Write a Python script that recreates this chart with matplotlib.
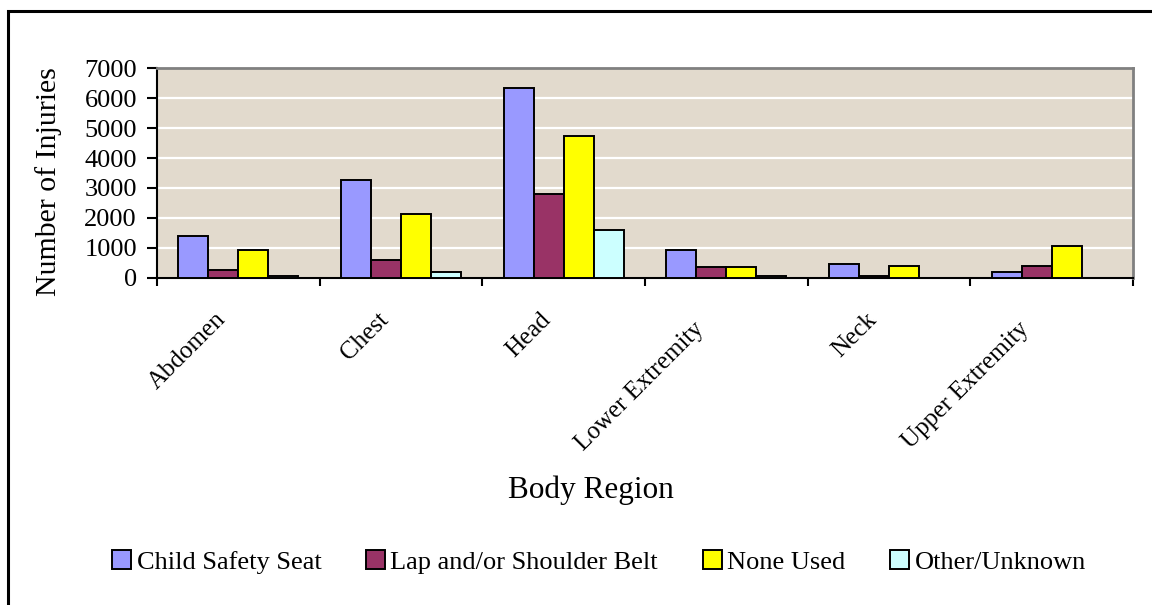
import numpy as np
import matplotlib.pyplot as plt
from matplotlib.patches import Rectangle
from matplotlib.transforms import ScaledTranslation

# DATA
regions = ["Abdomen", "Chest", "Head", "Lower Extremity", "Neck", "Upper Extremity"]
child_seat = [1400, 3270, 6330, 930, 460, 200]
belt = [270, 600, 2800, 380, 60, 390]
none_used = [930, 2130, 4730, 380, 400, 1060]
other = [60, 200, 1600, 70, 0, 0]

series_names = ["Child Safety Seat", "Lap and/or Shoulder Belt", "None Used", "Other/Unknown"]
series_colors = ["#9999ff", "#993366", "#ffff00", "#ccffff"]

# PLOT
plt.rcParams['font.family'] = ['Liberation Serif', 'DejaVu Serif']

fig = plt.figure(figsize=(11.52, 6.05), dpi=100)
ax = fig.add_axes([0.1363, 0.5405, 0.8472, 0.3471])
ax.set_facecolor("#e2dacd")

x = np.arange(len(regions))
w = 0.184
for i, (vals, name, col) in enumerate(zip([child_seat, belt, none_used, other], series_names, series_colors)):
    ax.bar(x - 1.5 * w + i * w, vals, width=w, color=col, edgecolor="black",
           linewidth=1.4, label=name, zorder=3)

ax.set_xlim(-0.5, len(regions) - 0.5)
ax.set_ylim(0, 7000)
ax.set_yticks(range(0, 7001, 1000))
ax.yaxis.grid(True, color="white", linewidth=1.6, zorder=1)
ax.set_axisbelow(True)

ax.set_xticks(x)
ax.set_xticklabels(regions, rotation=45, ha="right", rotation_mode="anchor", fontsize=18)
ax.set_xticks(np.arange(-0.5, len(regions)), minor=True)
ax.tick_params(axis="x", which="major", length=0, pad=22)
ax.tick_params(axis="x", which="minor", length=6, width=1.5, direction="out")
ax.tick_params(axis="y", length=7, width=1.5, direction="out", labelsize=19, pad=7.5)

# slide category labels left of the group centre, long ones a bit further down-left
for lbl in ax.get_xticklabels():
    extra = 1.2 * max(0, len(lbl.get_text()) - 7)
    dx = -(24 + extra) / 100
    dy = -extra / 100
    lbl.set_transform(lbl.get_transform() + ScaledTranslation(dx, dy, fig.dpi_scale_trans))

for s in ["left", "bottom"]:
    ax.spines[s].set_color("black")
    ax.spines[s].set_linewidth(1.5)
for s in ["top", "right"]:
    ax.spines[s].set_color("#808080")
    ax.spines[s].set_linewidth(2)

ax.set_ylabel("Number of Injuries", fontsize=21.5)
ax.yaxis.set_label_coords(-0.097, 0.46)
fig.text(0.513, 0.19, "Body Region", ha="center", va="center", fontsize=22.5)

fig.legend(loc="center", bbox_to_anchor=(0.52, 0.071), ncol=4, frameon=False,
           fontsize=19, handlelength=0.72, handleheight=0.72, handletextpad=0.2,
           columnspacing=1.7, borderpad=0)

# outer chart border (right and bottom edges fall outside the image)
fig.patches.append(Rectangle((8 / 1152, -0.1), 1.2, (605 - 11) / 605 + 0.1,
                             transform=fig.transFigure, fill=False,
                             edgecolor="black", linewidth=2.2))

fig.savefig("out.png", dpi=100)
